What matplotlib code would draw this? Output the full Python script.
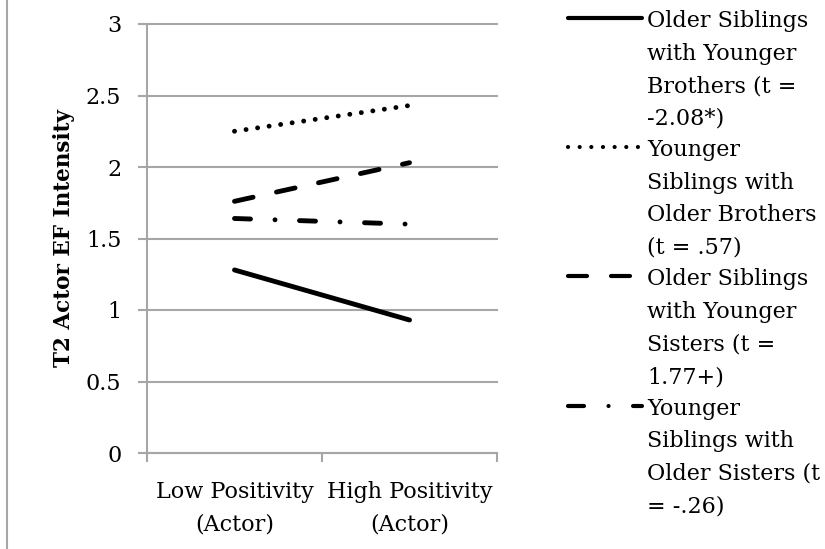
import matplotlib
matplotlib.use("Agg")
import matplotlib.pyplot as plt
from matplotlib.lines import Line2D

# chart values
categories = ["Low Positivity\n(Actor)", "High Positivity\n(Actor)"]
older_with_younger_brothers = [1.28, 0.93]
younger_with_older_brothers = [2.25, 2.43]
older_with_younger_sisters = [1.76, 2.03]
younger_with_older_sisters = [1.64, 1.60]
series_labels = [
    "Older Siblings\nwith Younger\nBrothers (t =\n-2.08*)",
    "Younger\nSiblings with\nOlder Brothers\n(t = .57)",
    "Older Siblings\nwith Younger\nSisters (t =\n1.77+)",
    "Younger\nSiblings with\nOlder Sisters (t\n= -.26)",
]
y_ticks = [0, 0.5, 1, 1.5, 2, 2.5, 3]
y_tick_labels = ["0", "0.5", "1", "1.5", "2", "2.5", "3"]

series = [older_with_younger_brothers, younger_with_older_brothers,
          older_with_younger_sisters, younger_with_older_sisters]
# dash patterns in pixels: solid, round dot, long dash, long dash dot
dash_px = [None, (0.05, 11.6), (19, 24), (16, 24.5, 0.05, 24.5)]

plt.rcParams['font.family'] = ['DejaVu Serif']
GRAY = "#a6a6a6"
W, H = 825, 549
LINESP = 1.62


def fx(px):
    return px / W


def fy(py):
    return 1 - py / H


def style(pattern, lw):
    # matplotlib scales dashes by the line width, so undo that here
    if pattern is None:
        return "-"
    lw_px = lw * 100 / 72
    return (0, tuple(p / lw_px for p in pattern))


fig = plt.figure(figsize=(8.25, 5.49), dpi=100)
ax = fig.add_axes([fx(147), fy(453), 350 / W, 429 / H])

x_pos = [i + 0.5 for i in range(len(categories))]
for vals, pat in zip(series, dash_px):
    ax.plot(x_pos, vals, color="black", lw=3.5, linestyle=style(pat, 3.5),
            solid_capstyle="round", dash_capstyle="round")

ax.set_xlim(0, len(categories))
ax.set_ylim(0, 3)
ax.set_yticks(y_ticks)
ax.set_yticklabels(y_tick_labels)
ax.set_xticks(range(len(categories) + 1))
ax.set_xticklabels([])
ax.set_xticks(x_pos, minor=True)
ax.set_xticklabels(categories, minor=True, linespacing=LINESP)

ax.tick_params(axis="y", direction="out", length=6.5, width=1.5, color=GRAY,
               pad=12, labelsize=16)
ax.tick_params(axis="x", which="major", direction="out", length=6.5,
               width=1.5, color=GRAY)
ax.tick_params(axis="x", which="minor", length=0, pad=20, labelsize=16)

ax.grid(axis="y", color=GRAY, lw=1.5)
ax.set_axisbelow(True)
for gl in ax.get_ygridlines():
    gl.set_clip_on(False)

for side in ["top", "right"]:
    ax.spines[side].set_visible(False)
for side in ["left", "bottom"]:
    ax.spines[side].set_color(GRAY)
    ax.spines[side].set_linewidth(1.5)

ax.set_ylabel("T2 Actor EF Intensity", fontsize=15.5, fontweight="bold")
ax.yaxis.set_label_coords((75 - 147) / 350, 0.5)

# legend drawn by hand so the key sits on the first text line
for i, (lab, pat) in enumerate(zip(series_labels, dash_px)):
    yh = 18 + 129.2 * i
    fig.add_artist(Line2D([fx(568), fx(642)], [fy(yh), fy(yh)],
                          transform=fig.transFigure, color="black", lw=3,
                          linestyle=style(pat, 3), solid_capstyle="round",
                          dash_capstyle="round"))
    fig.text(fx(647), fy(10 + 129.2 * i), lab, fontsize=16, ha="left",
             va="top", linespacing=LINESP)

# thin frame line at the left of the chart area
fig.add_artist(Line2D([fx(7), fx(7)], [0, 1], transform=fig.transFigure,
                      color=GRAY, lw=1.5))

fig.savefig("out.png", dpi=100)
